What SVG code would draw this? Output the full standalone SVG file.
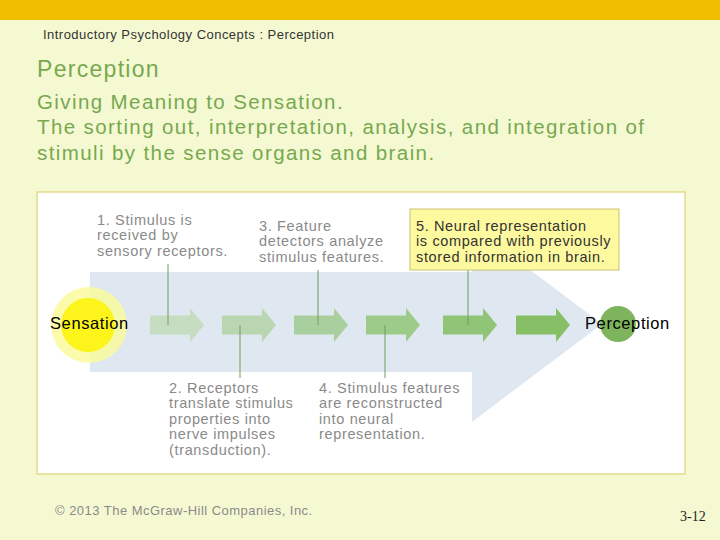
<svg xmlns="http://www.w3.org/2000/svg" width="720" height="540" viewBox="0 0 720 540">
<defs>
<style>
.hdr{font-family:"Liberation Sans",Arial,sans-serif;font-size:13px;fill:#333;letter-spacing:0.47px}
.ttl{font-family:"Liberation Sans",Arial,sans-serif;fill:#77a850;letter-spacing:1.4px}
.note{font-family:"Liberation Sans",Arial,sans-serif;font-size:14.5px;fill:#8a8a8a;letter-spacing:0.65px}
.note5{font-family:"Liberation Sans",Arial,sans-serif;font-size:14.5px;fill:#333;letter-spacing:0.63px}
.lbl{font-family:"Liberation Sans",Arial,sans-serif;font-size:16.5px;fill:#000;letter-spacing:0.6px}
.conn{stroke:#6f9e5e;stroke-width:1;fill:none}
</style>
<path id="sa" d="M0,-9.5 H40 V-17 L54,0 L40,17 V9.5 H0 Z"/>
</defs>
<rect x="0" y="0" width="720" height="540" fill="#f5f9d2"/>
<rect x="0" y="0" width="720" height="20" fill="#f0be00"/>
<text class="hdr" x="43" y="39">Introductory Psychology Concepts : Perception</text>
<text class="ttl" x="37" y="77" font-size="23" style="letter-spacing:1.3px">Perception</text>
<text class="ttl" x="37" y="109" font-size="20.5">Giving Meaning to Sensation.</text>
<text class="ttl" x="37" y="134" font-size="20.5">The sorting out, interpretation, analysis, and integration of</text>
<text class="ttl" x="37" y="160" font-size="20.5">stimuli by the sense organs and brain.</text>

<rect x="37" y="192" width="648" height="282" fill="#ffffff" stroke="#e3dc8a" stroke-width="1.5"/>
<g id="bigarrow">
<path d="M90,272 H472 V226 L602,324 L472,422 V372 H90 Z" fill="#dfe8f0"/>
</g>

<g id="sensation">
<circle cx="89" cy="325" r="38" fill="#fafa9c" opacity="0.85"/>
<circle cx="88" cy="325" r="27" fill="#fcf41a"/>
<text class="lbl" x="50" y="329">Sensation</text>
</g>
<g id="perception">
<circle cx="618" cy="324" r="18" fill="#7db45c"/>
<text class="lbl" x="585" y="329">Perception</text>
</g>

<g id="steps">
<use href="#sa" x="150" y="325" fill="#c6ddc2"/>
<use href="#sa" x="222" y="325" fill="#b9d6b1"/>
<use href="#sa" x="294" y="325" fill="#aacf9e"/>
<use href="#sa" x="366" y="325" fill="#9dcb8a"/>
<use href="#sa" x="443" y="325" fill="#90c476"/>
<use href="#sa" x="516" y="325" fill="#86bf65"/>
</g>

<g id="connectors">
<line class="conn" x1="168" y1="264" x2="168" y2="325"/>
<line class="conn" x1="240" y1="325" x2="240" y2="378"/>
<line class="conn" x1="318" y1="270" x2="318" y2="325"/>
<line class="conn" x1="385" y1="325" x2="385" y2="378"/>
<line class="conn" x1="468" y1="270" x2="468" y2="325"/>
</g>

<g id="note1">
<text class="note" x="97" y="225">1. Stimulus is</text>
<text class="note" x="97" y="240">received by</text>
<text class="note" x="97" y="256">sensory receptors.</text>
</g>
<g id="note3">
<text class="note" x="259" y="231">3. Feature</text>
<text class="note" x="259" y="246">detectors analyze</text>
<text class="note" x="259" y="262">stimulus features.</text>
</g>
<g id="note5">
<rect x="410" y="209" width="209" height="61" fill="#fdf99e" stroke="#c9c276" stroke-width="1"/>
<text class="note5" x="416" y="231">5. Neural representation</text>
<text class="note5" x="416" y="246">is compared with previously</text>
<text class="note5" x="416" y="262">stored information in brain.</text>
</g>
<g id="note2">
<text class="note" x="169" y="393">2. Receptors</text>
<text class="note" x="169" y="408">translate stimulus</text>
<text class="note" x="169" y="424">properties into</text>
<text class="note" x="169" y="439">nerve impulses</text>
<text class="note" x="169" y="455">(transduction).</text>
</g>
<g id="note4">
<text class="note" x="319" y="393">4. Stimulus features</text>
<text class="note" x="319" y="408">are reconstructed</text>
<text class="note" x="319" y="424">into neural</text>
<text class="note" x="319" y="439">representation.</text>
</g>

<text class="hdr" x="55" y="515" style="fill:#8a8a8a">© 2013 The McGraw-Hill Companies, Inc.</text>
<text x="680" y="521" font-family="Liberation Serif,'Times New Roman',serif" font-size="14" fill="#222">3-12</text>
</svg>
